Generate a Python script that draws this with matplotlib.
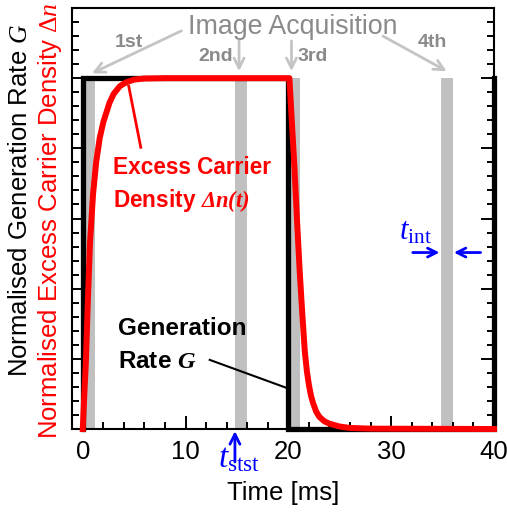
import matplotlib
matplotlib.use('Agg')
import matplotlib.pyplot as plt
from matplotlib.ticker import MultipleLocator

plt.rcParams['font.family'] = ['Liberation Sans', 'DejaVu Sans']
plt.rcParams['mathtext.fontset'] = 'custom'
plt.rcParams['mathtext.rm'] = 'Liberation Serif'
plt.rcParams['mathtext.it'] = 'Liberation Serif:italic'
plt.rcParams['mathtext.bf'] = 'Liberation Serif:italic:bold'

# generation rate G (square pulse, normalised)
gen_t = [0, 0, 20, 20, 40, 40]
gen_g = [0, 1, 1, 0, 0, 1]

# excess carrier density
dn_t = [0, 0.15, 0.3, 0.5, 0.7, 1.0, 1.3, 1.65, 2.0, 2.6, 3.0, 3.6, 4.2, 5.0, 6.0, 8.0, 20.0,
        20.1, 20.35, 20.6, 20.85, 21.1, 21.35, 21.6, 21.8, 22.0, 22.2, 22.4, 22.7, 23.0, 23.5,
        24.0, 25.0, 26.0, 28.0, 40.0]
dn_v = [0, 0.10, 0.19, 0.37, 0.53, 0.67, 0.76, 0.83, 0.875, 0.93, 0.955, 0.977, 0.988, 0.996, 0.999, 1.0, 1.0,
        1.0, 0.87, 0.74, 0.59, 0.45, 0.33, 0.22, 0.165, 0.125, 0.095, 0.074, 0.05, 0.035, 0.022,
        0.015, 0.007, 0.003, 0.001, 0.0]

# image acquisition windows
acq_start = [-0.05, 14.8, 19.95, 34.8]
acq_width = 1.2
acq_names = ['1st', '2nd', '3rd', '4th']

fig = plt.figure(figsize=(5.07, 5.20), dpi=100)
ax = fig.add_axes([0.142, 0.175, 0.8323, 0.8096])

for s in acq_start:
    ax.bar(s, 1.0, width=acq_width, align='edge', color='#c0c0c0', zorder=1)

ax.plot(gen_t, gen_g, color='black', lw=3.8, zorder=3, clip_on=False, solid_joinstyle='miter')
ax.plot(dn_t, dn_v, color='red', lw=4.3, zorder=4, clip_on=False)

ax.set_xlim(-1.05, 40)
ax.set_ylim(0, 1.2)
ax.xaxis.set_major_locator(MultipleLocator(10))
ax.xaxis.set_minor_locator(MultipleLocator(2))
ax.yaxis.set_major_locator(MultipleLocator(0.2))
ax.yaxis.set_minor_locator(MultipleLocator(0.04))
ax.tick_params(which='both', direction='in', left=True, right=True, top=False, width=1.4)
ax.tick_params(which='major', length=9.5)
ax.tick_params(which='minor', length=5)
ax.tick_params(axis='y', labelleft=False)
ax.tick_params(axis='x', labelsize=18.5, pad=8)
for sp in ax.spines.values():
    sp.set_linewidth(1.5)

ax.set_xlabel('Time [ms]', fontsize=18.5, labelpad=12)

fig.text(20 / 507, 1 - 200 / 520, 'Normalised Generation Rate $G$', rotation=90,
         ha='center', va='center', fontsize=18.5, color='black')
fig.text(50 / 507, 1 - 221 / 520, r'Normalised Excess Carrier Density $\mathit{\Delta n}$', rotation=90,
         ha='center', va='center', fontsize=18.5, color='red')

# image acquisition annotation
gray_txt = '#8a8a8a'
gray_arr = '#c4c4c4'
ax.text(20.4, 1.126, 'Image Acquisition', ha='center', va='baseline', fontsize=19.3, color=gray_txt,
        clip_on=False)
name_pos = [(4.5, 1.089), (12.9, 1.049), (22.4, 1.049), (34.0, 1.089)]
for name, (x, y) in zip(acq_names, name_pos):
    ax.text(x, y, name, ha='center', va='baseline', fontsize=14, fontweight='bold', color=gray_txt)
arrow_from = [(9.6, 1.135), (15.2, 1.106), (20.3, 1.106), (29.2, 1.12)]
arrow_to = [(0.9, 1.014), (15.2, 1.02), (20.3, 1.02), (35.4, 1.02)]
for p0, p1 in zip(arrow_from, arrow_to):
    ax.annotate('', xy=p1, xytext=p0,
                arrowprops=dict(arrowstyle='->', color=gray_arr, lw=2, mutation_scale=18,
                                shrinkA=0, shrinkB=0))

# curve labels
ax.text(2.92, 0.726, 'Excess Carrier', ha='left', va='baseline', fontsize=16.3, fontweight='bold',
        color='red', zorder=5)
ax.text(2.92, 0.634, r'Density $\mathbf{\Delta n(t)}$', ha='left', va='baseline', fontsize=16.3,
        fontweight='bold', color='red', zorder=5)
ax.plot([4.47, 5.64], [0.977, 0.803], color='red', lw=2, zorder=5)

ax.text(3.4, 0.269, 'Generation', ha='left', va='baseline', fontsize=17.5, fontweight='bold',
        color='black', zorder=5)
ax.text(3.4, 0.174, r'Rate $\mathbf{G}$', ha='left', va='baseline', fontsize=17.5,
        fontweight='bold', color='black', zorder=5)
ax.plot([12.35, 19.84], [0.197, 0.117], color='black', lw=1.5, zorder=5)

# time markers
ax.annotate('', xy=(14.8, -0.006), xytext=(14.8, -0.094), annotation_clip=False,
            arrowprops=dict(arrowstyle='->', color='blue', lw=2, mutation_scale=18,
                            shrinkA=0, shrinkB=0))
ax.text(13.2, -0.11, r'$t_{\mathrm{stst}}$', ha='left', va='baseline', fontsize=24, color='blue',
        clip_on=False)

ax.text(30.8, 0.54, r'$t_{\mathrm{int}}$', ha='left', va='baseline', fontsize=22, color='blue')
ax.annotate('', xy=(34.7, 0.503), xytext=(32.1, 0.503),
            arrowprops=dict(arrowstyle='->', color='blue', lw=2, mutation_scale=16,
                            shrinkA=0, shrinkB=0))
ax.annotate('', xy=(36.1, 0.503), xytext=(38.7, 0.503),
            arrowprops=dict(arrowstyle='->', color='blue', lw=2, mutation_scale=16,
                            shrinkA=0, shrinkB=0))

fig.savefig('out.png', dpi=100)
